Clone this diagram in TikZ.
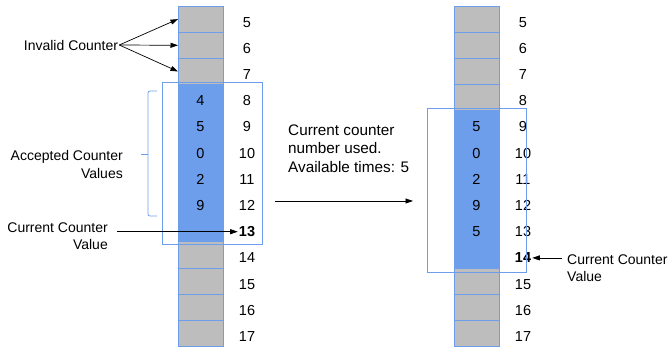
\documentclass[tikz,border=0pt]{standalone}
\usepackage{fontspec}
\setmainfont{Liberation Sans}
\usetikzlibrary{arrows.meta}
\definecolor{cellblue}{HTML}{6D9EEB}
\definecolor{cellgray}{HTML}{BDBDBD}
\definecolor{lineblue}{HTML}{6D9EEB}
\begin{document}
\begin{tikzpicture}[x=1pt,y=-1pt,
  every node/.style={font=\fontsize{14}{17.5}\selectfont},
  cellbox/.style={draw=lineblue, line width=0.8pt, minimum width=45pt, minimum height=26.2pt, inner sep=0pt, outer sep=0pt},
  graycell/.style={cellbox, fill=cellgray},
  bluecell/.style={cellbox, fill=cellblue},
  numlabel/.style={inner sep=1pt, font=\fontsize{14.5}{17.5}\selectfont},
  frame/.style={draw=lineblue, line width=0.9pt, inner sep=0pt, outer sep=0pt},
  arr/.style={draw=black, line width=0.7pt, -{Triangle[length=7.5pt,width=5pt]}},
  txt/.style={inner sep=1pt}
]
\useasboundingbox (0,0) rectangle (668,352);
% left column
\foreach \i/\v/\s in {5//graycell,6//graycell,7//graycell,8/4/bluecell,9/5/bluecell,10/0/bluecell,11/2/bluecell,12/9/bluecell,13//bluecell,14//graycell,15//graycell,16//graycell,17//graycell}{
  \node[\s] (L\i) at (200.5,{6+(\i-4.5)*26.2}) {};
  \node[numlabel] (LV\i) at (200.5,{6+(\i-4.5)*26.2+3}) {\v};
}
\foreach \i in {5,...,12,14,15,16,17}{
  \node[numlabel] (LN\i) at (247,{6+(\i-4.5)*26.2+3}) {\i};
}
\node[numlabel] (LN13) at (247,{6+(13-4.5)*26.2+3}) {\textbf{13}};
% right column
\foreach \i/\v/\s in {5//graycell,6//graycell,7//graycell,8//graycell,9/5/bluecell,10/0/bluecell,11/2/bluecell,12/9/bluecell,13/5/bluecell,14//bluecell,15//graycell,16//graycell,17//graycell}{
  \node[\s] (R\i) at (476.5,{6+(\i-4.5)*26.2}) {};
  \node[numlabel] (RV\i) at (476.5,{6+(\i-4.5)*26.2+3}) {\v};
}
\foreach \i in {5,...,13,15,16,17}{
  \node[numlabel] (RN\i) at (523,{6+(\i-4.5)*26.2+3}) {\i};
}
\node[numlabel] (RN14) at (523,{6+(14-4.5)*26.2+3}) {\textbf{14}};
% frames
\node[frame, minimum width=100pt, minimum height=162pt] (lbox) at (212,163) {};
\node[frame, minimum width=99pt, minimum height=164pt] (rbox) at (476.5,190) {};
% brace
\draw[lineblue, line width=0.8pt, rounded corners=2pt] (157,91) -- (148,91) -- (148,216) -- (157,216);
\draw[lineblue, line width=0.8pt] (148,154) -- (141,154);
% texts
\node[txt] (inv) at (71,45) {Invalid Counter};
\draw[arr] (inv.east) -- (L5.west);
\draw[arr] (inv.east) -- (L6.west);
\draw[arr] (inv.east) -- (L7.west);
\node[txt, align=right, anchor=east] (acc) at (124,164.5) {Accepted Counter\\Values};
\node[txt, align=right, anchor=east] (cur) at (109,236) {Current Counter\\Value};
\draw[arr] ([xshift=8pt]cur.east |- LN13.west) -- (LN13.west);
\node[txt, align=left, anchor=west, font=\fontsize{15.3}{18.5}\selectfont] (mid) at (287,148.5) {Current counter\\number used.\\Available times: 5};
\coordinate (ma) at (275,201);
\coordinate (mb) at (413,201);
\draw[arr] (ma) -- (mb);
\node[txt, align=left, anchor=west] (rc) at (566,268) {Current Counter\\Value};
\draw[arr] ([xshift=-4pt]rc.west |- RN14.east) -- (RN14.east);
\end{tikzpicture}
\end{document}
